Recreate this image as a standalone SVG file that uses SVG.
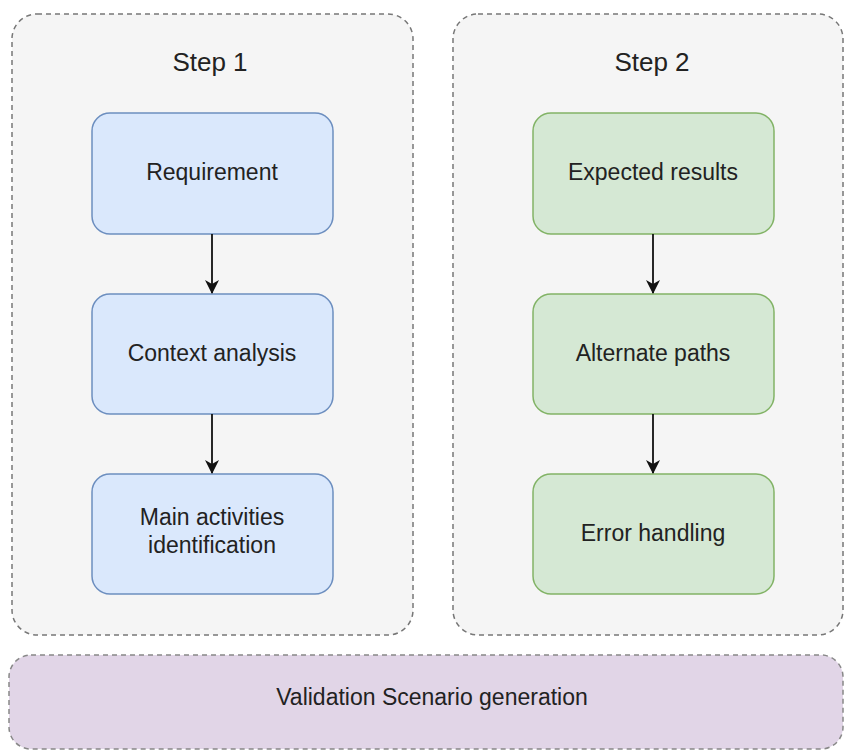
<svg xmlns="http://www.w3.org/2000/svg" width="845" height="751" viewBox="0 0 845 751">
  <defs>
    <style>
      .container { fill: #f5f5f5; stroke: #777; stroke-width: 1.5; stroke-dasharray: 5 4; }
      .purple { fill: #e1d5e7; stroke: #888; stroke-width: 1.5; stroke-dasharray: 5 4; }
      .blue { fill: #dae8fc; stroke: #6c8ebf; stroke-width: 1.5; }
      .green { fill: #d5e8d4; stroke: #82b366; stroke-width: 1.5; }
      text { font-family: "Liberation Sans", Arial, sans-serif; fill: #222; text-anchor: middle; }
      .title { font-size: 26px; }
      .label { font-size: 23px; }
      .edge { stroke: #111; stroke-width: 1.8; fill: none; marker-end: url(#arrow); }
    </style>
    <marker id="arrow" markerWidth="16" markerHeight="16" refX="13" refY="7" orient="auto" markerUnits="userSpaceOnUse">
      <path d="M0,0 L14,7 L0,14 L4,7 Z" fill="#111"/>
    </marker>
  </defs>

  <rect width="845" height="751" fill="#ffffff"/>

  <g id="step1">
    <rect class="container" x="12" y="14" width="401" height="621" rx="25" ry="25"/>
    <text class="title" x="210" y="71">Step 1</text>
  </g>
  <g id="step2">
    <rect class="container" x="453" y="14" width="390" height="621" rx="25" ry="25"/>
    <text class="title" x="652" y="71">Step 2</text>
  </g>

  <g id="requirement">
    <rect class="blue" x="92" y="113" width="241" height="121" rx="18" ry="18"/>
    <text class="label" x="212" y="180">Requirement</text>
  </g>
  <g id="context">
    <rect class="blue" x="92" y="294" width="241" height="120" rx="18" ry="18"/>
    <text class="label" x="212" y="361">Context analysis</text>
  </g>
  <g id="main">
    <rect class="blue" x="92" y="474" width="241" height="120" rx="18" ry="18"/>
    <text class="label" x="212" y="525">Main activities</text>
    <text class="label" x="212" y="553">identification</text>
  </g>

  <g id="expected">
    <rect class="green" x="533" y="113" width="241" height="121" rx="18" ry="18"/>
    <text class="label" x="653" y="180">Expected results</text>
  </g>
  <g id="alternate">
    <rect class="green" x="533" y="294" width="241" height="120" rx="18" ry="18"/>
    <text class="label" x="653" y="361">Alternate paths</text>
  </g>
  <g id="error">
    <rect class="green" x="533" y="474" width="241" height="120" rx="18" ry="18"/>
    <text class="label" x="653" y="541">Error handling</text>
  </g>

  <g id="validation">
    <rect class="purple" x="9" y="655" width="834" height="94" rx="22" ry="22"/>
    <text class="label" x="432" y="705">Validation Scenario generation</text>
  </g>

  <g id="connectors">
    <line class="edge" x1="212" y1="234" x2="212" y2="293"/>
    <line class="edge" x1="212" y1="414" x2="212" y2="473"/>
    <line class="edge" x1="653" y1="234" x2="653" y2="293"/>
    <line class="edge" x1="653" y1="414" x2="653" y2="473"/>
  </g>
</svg>
